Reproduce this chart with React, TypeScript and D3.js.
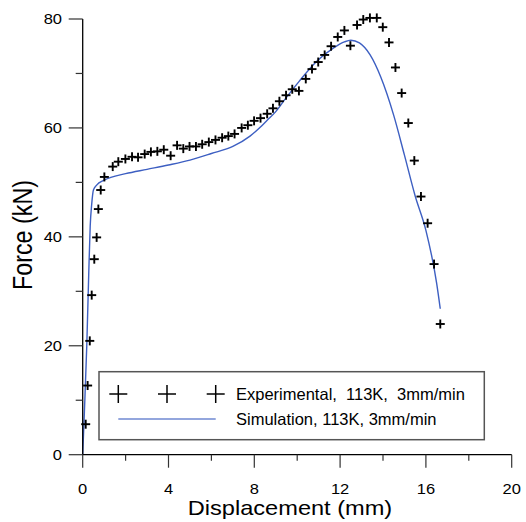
import React from "react";
import * as d3 from "d3";

const expX = [0.14,0.23,0.33,0.42,0.54,0.65,0.73,0.84,1.01,1.40,1.66,1.99,2.30,2.58,2.89,3.18,3.48,3.78,4.10,4.40,4.69,4.98,5.28,5.57,5.88,6.19,6.50,6.79,7.08,7.41,7.70,7.99,8.29,8.60,8.87,9.17,9.48,9.77,10.08,10.40,10.69,10.98,11.28,11.58,11.89,12.20,12.48,12.79,13.08,13.39,13.71,13.99,14.28,14.58,14.87,15.18,15.46,15.77,16.08,16.38,16.67];
const expY = [5.6,12.7,20.9,29.3,35.9,39.9,45.1,48.6,51.0,52.9,53.8,54.3,54.7,54.6,55.2,55.6,55.7,56.0,54.9,56.8,56.2,56.6,56.6,57.0,57.4,57.8,58.2,58.5,58.9,60.0,60.5,61.3,61.8,62.6,63.6,64.9,66.0,67.1,66.8,69.0,70.8,72.1,73.4,75.0,76.7,77.9,75.1,78.9,79.9,80.2,80.2,78.5,75.7,71.1,66.4,60.9,54.0,47.4,42.5,35.0,24.0];

const simX = [0,0.08,0.19,0.28,0.35,0.42,0.5,0.65,1.0,2.0,3.0,4.0,5.0,6.0,7.0,7.8,8.3,8.6,9.0,9.4,10.1,10.9,11.7,12.2,12.5,12.9,13.4,13.9,14.5,15.0,15.5,16.0,16.5,16.67];
const simY = [0,8,20,33,42,46,48.6,49.5,50.4,51.6,52.4,53.2,54.1,55.3,56.6,58.5,60.2,61.4,63.0,65.1,68.6,72.2,74.7,75.8,76.1,75.6,73.4,69.3,62.3,55.0,47.5,41.2,31.5,26.8];

const xMajor = [0, 4, 8, 12, 16, 20];
const xMinor = [2, 6, 10, 14, 18];
const yMajor = [0, 20, 40, 60, 80];
const yMinor = [10, 30, 50, 70];

const legendExp = "Experimental,  113K,  3mm/min";
const legendSim = "Simulation, 113K, 3mm/min";
const xTitle = "Displacement (mm)";
const yTitle = "Force (kN)";

export default function App() {
  const x = d3.scaleLinear().domain([0, 20]).range([82.7, 511.7]);
  const y = d3.scaleLinear().domain([0, 80]).range([454.7, 19]);
  const line = d3
    .line<number>()
    .x((_, i) => x(simX[i]))
    .y((d) => y(d))
    .curve(d3.curveMonotoneX);
  const font = "Arial, 'Liberation Sans', sans-serif";
  const ms = 4.5;
  const simColor = "#3d5fc2";

  return (
    <svg
      width={526}
      height={522}
      style={{ position: "absolute", left: 0, top: 0, background: "#fff" }}
      fontFamily={font}
    >
      {/* simulation line */}
      <path d={line(simY) || ""} fill="none" stroke={simColor} strokeWidth={1.4} />
      {/* experimental markers */}
      {expX.map((vx, i) => (
        <g key={i} transform={`translate(${x(vx)},${y(expY[i])})`} stroke="#000" strokeWidth={1.9}>
          <line x1={-ms} x2={ms} y1={0} y2={0} />
          <line x1={0} x2={0} y1={-ms} y2={ms} />
        </g>
      ))}
      {/* axes */}
      <line x1={x(0)} x2={x(0)} y1={y(0)} y2={y(80)} stroke="#000" strokeWidth={1.3} />
      <line x1={x(0)} x2={x(20)} y1={y(0)} y2={y(0)} stroke="#000" strokeWidth={1.3} />
      {yMajor.map((v) => (
        <g key={"ym" + v}>
          <line x1={x(0) - 14} x2={x(0)} y1={y(v)} y2={y(v)} stroke="#333" strokeWidth={1.2} />
          <text
            x={0}
            y={0}
            fontSize={15}
            textAnchor="end"
            dominantBaseline="central"
            transform={`translate(62,${y(v)}) scale(1.1,1)`}
          >
            {v}
          </text>
        </g>
      ))}
      {yMinor.map((v) => (
        <line key={"yn" + v} x1={x(0) - 7} x2={x(0)} y1={y(v)} y2={y(v)} stroke="#333" strokeWidth={1.2} />
      ))}
      {xMajor.map((v) => (
        <g key={"xm" + v}>
          <line x1={x(v)} x2={x(v)} y1={y(0)} y2={y(0) + 13} stroke="#333" strokeWidth={1.2} />
          <text
            x={0}
            y={0}
            fontSize={15}
            textAnchor="middle"
            transform={`translate(${x(v)},493.5) scale(1.1,1)`}
          >
            {v}
          </text>
        </g>
      ))}
      {xMinor.map((v) => (
        <line key={"xn" + v} x1={x(v)} x2={x(v)} y1={y(0)} y2={y(0) + 6} stroke="#333" strokeWidth={1.2} />
      ))}
      {/* axis titles */}
      <text
        x={0}
        y={0}
        fontSize={20}
        textAnchor="middle"
        transform="translate(290,515) scale(1.18,1)"
      >
        {xTitle}
      </text>
      <text
        x={0}
        y={0}
        fontSize={23.3}
        textAnchor="middle"
        transform="translate(32,235) rotate(-90) scale(1,1.16)"
      >
        {yTitle}
      </text>
      {/* legend */}
      <rect x={99} y={371.7} width={385.3} height={68} fill="#fff" stroke="#555" strokeWidth={1.5} />
      {[118.3, 167, 215.7].map((lx) => (
        <g key={lx} transform={`translate(${lx},394)`} stroke="#000" strokeWidth={1.5}>
          <line x1={-9} x2={9} y1={0} y2={0} />
          <line x1={0} x2={0} y1={-9} y2={9} />
        </g>
      ))}
      <text x={236} y={400} fontSize={16.5} style={{ whiteSpace: "pre" }}>
        {legendExp}
      </text>
      <line x1={118.3} x2={215.7} y1={419} y2={419} stroke="#6f88d2" strokeWidth={1.3} />
      <text x={236} y={424.5} fontSize={16.5} style={{ whiteSpace: "pre" }}>
        {legendSim}
      </text>
    </svg>
  );
}
